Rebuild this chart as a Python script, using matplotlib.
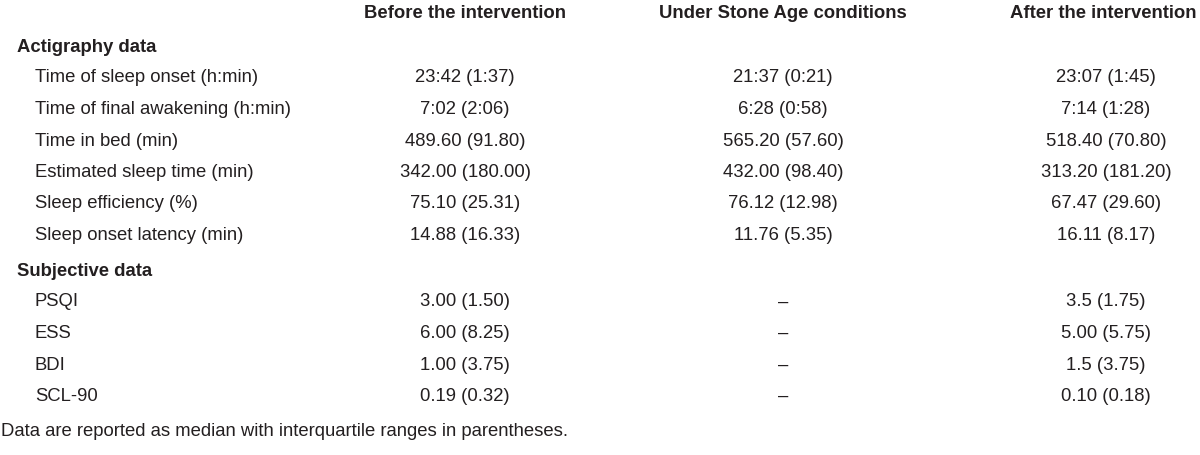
import matplotlib.pyplot as plt

# Tabell-data
kolumner = ["Before the intervention", "Under Stone Age conditions", "After the intervention"]

sektioner = ["Actigraphy data", "Subjective data"]

akti_rader = ["Time of sleep onset (h:min)", "Time of final awakening (h:min)", "Time in bed (min)",
              "Estimated sleep time (min)", "Sleep efficiency (%)", "Sleep onset latency (min)"]
akti_fore = ["23:42 (1:37)", "7:02 (2:06)", "489.60 (91.80)", "342.00 (180.00)", "75.10 (25.31)", "14.88 (16.33)"]
akti_sten = ["21:37 (0:21)", "6:28 (0:58)", "565.20 (57.60)", "432.00 (98.40)", "76.12 (12.98)", "11.76 (5.35)"]
akti_efter = ["23:07 (1:45)", "7:14 (1:28)", "518.40 (70.80)", "313.20 (181.20)", "67.47 (29.60)", "16.11 (8.17)"]

subj_rader = ["PSQI", "ESS", "BDI", "SCL-90"]
subj_fore = ["3.00 (1.50)", "6.00 (8.25)", "1.00 (3.75)", "0.19 (0.32)"]
subj_sten = ["\u2013", "\u2013", "\u2013", "\u2013"]
subj_efter = ["3.5 (1.75)", "5.00 (5.75)", "1.5 (3.75)", "0.10 (0.18)"]

fotnot = "Data are reported as median with interquartile ranges in parentheses."

# Layout (pixlar)
plt.rcParams['font.family'] = ['Liberation Sans Narrow', 'Liberation Sans', 'DejaVu Sans']
farg = "#231f20"
fs = 13.3
kol_x = [465, 783, 1106]
rad_h = 31.5

fig = plt.figure(figsize=(12, 4.55), dpi=100)
ax = fig.add_axes([0, 0, 1, 1])
ax.set_xlim(0, 1200)
ax.set_ylim(455, 0)
ax.axis("off")

# Rubriker
ax.text(kol_x[0], 13, kolumner[0], ha="center", va="center", fontsize=fs, fontweight="bold", color=farg)
ax.text(kol_x[1], 13, kolumner[1], ha="center", va="center", fontsize=fs, fontweight="bold", color=farg)
ax.text(1197, 13, kolumner[2], ha="right", va="center", fontsize=fs, fontweight="bold", color=farg)

def rita_sektion(y0, titel, rader, kol1, kol2, kol3):
    ax.text(17, y0, titel, ha="left", va="center", fontsize=fs, fontweight="bold", color=farg)
    for i, namn in enumerate(rader):
        y = y0 + 31 + i * rad_h
        ax.text(35, y, namn, ha="left", va="center", fontsize=fs, color=farg)
        for x, v in zip(kol_x, [kol1[i], kol2[i], kol3[i]]):
            ax.text(x, y, v, ha="center", va="center", fontsize=fs, color=farg)

rita_sektion(47, sektioner[0], akti_rader, akti_fore, akti_sten, akti_efter)
rita_sektion(271, sektioner[1], subj_rader, subj_fore, subj_sten, subj_efter)

ax.text(1, 432, fotnot, ha="left", va="center", fontsize=fs, color=farg)

plt.savefig("out.png", dpi=100)
